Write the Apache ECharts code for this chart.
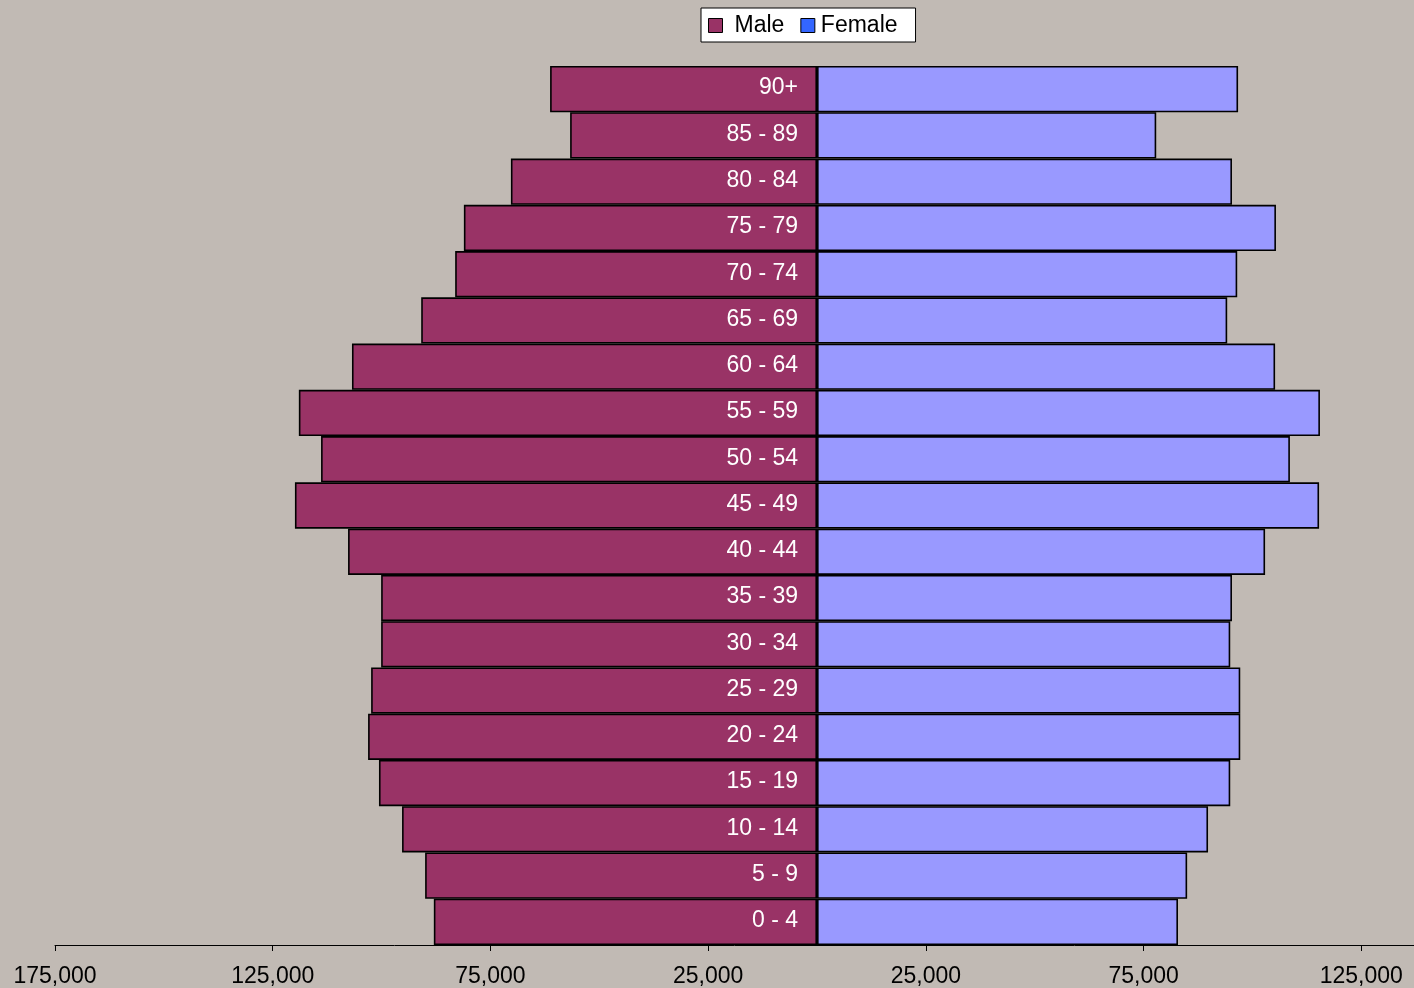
<!DOCTYPE html>
<html>
<head>
<meta charset="utf-8">
<script src="https://cdn.jsdelivr.net/npm/echarts@6/dist/echarts.min.js"></script>
<style>
  html, body { margin: 0; padding: 0; background: #C1BAB4; }
  #chart { width: 1414px; height: 988px; }
</style>
</head>
<body>
<div id="chart"></div>
<script>
// Age groups, youngest at the bottom
const ageGroups = ['0 - 4', '5 - 9', '10 - 14', '15 - 19', '20 - 24', '25 - 29', '30 - 34',
  '35 - 39', '40 - 44', '45 - 49', '50 - 54', '55 - 59', '60 - 64', '65 - 69', '70 - 74',
  '75 - 79', '80 - 84', '85 - 89', '90+'];

// Population counts per age group
const maleCounts = [88000, 90000, 95300, 100600, 103100, 102400, 100100, 100100, 107700, 119900,
  113900, 119000, 106800, 90900, 83100, 81100, 70300, 56700, 61300];
const femaleCounts = [82900, 85000, 89800, 94900, 97200, 97200, 94900, 95300, 102900, 115300,
  108600, 115500, 105200, 94200, 96500, 105400, 95300, 77900, 96700];

// Axis ticks
const axisMin = -175000;
const axisMax = 137100;
const tickStep = 50000;

const fmt = v => Math.abs(v).toLocaleString('en-US');

const chart = echarts.init(document.getElementById('chart'));
chart.setOption({
  backgroundColor: '#C1BAB4',
  animation: false,
  textStyle: { fontFamily: 'Liberation Sans, Arial, sans-serif' },
  legend: {
    left: 701,
    top: 8,
    padding: [6, 18, 5, 7],
    backgroundColor: '#FFFFFF',
    borderColor: '#000000',
    borderWidth: 1,
    borderRadius: 0,
    itemWidth: 14,
    itemHeight: 14,
    itemGap: 16,
    textStyle: { fontSize: 23, color: '#000000' },
    data: [
      { name: 'Male', icon: 'rect', itemStyle: { color: '#993366', borderColor: '#000000', borderWidth: 1 },
        textStyle: { padding: [2, 0, 0, 7] } },
      { name: 'Female', icon: 'rect', itemStyle: { color: '#3366FF', borderColor: '#000000', borderWidth: 1 },
        textStyle: { padding: [2, 0, 0, 1] } }
    ]
  },
  grid: { left: 55, right: 0, top: 66, bottom: 43, containLabel: false },
  xAxis: {
    type: 'value',
    min: axisMin,
    max: axisMax,
    interval: tickStep,
    splitLine: { show: false },
    axisLine: { show: true, onZero: false, lineStyle: { color: '#000000', width: 1 } },
    axisTick: { show: true, length: 6, lineStyle: { color: '#000000' } },
    axisLabel: { formatter: fmt, fontSize: 23, color: '#000000', margin: 20, showMaxLabel: false }
  },
  yAxis: {
    type: 'category',
    data: ageGroups,
    axisLine: { show: false },
    axisTick: { show: false },
    axisLabel: { show: false },
    splitLine: { show: false }
  },
  series: [
    {
      name: 'Male',
      type: 'bar',
      data: maleCounts.map(v => -v),
      barCategoryGap: 0,
      barGap: '-100%',
      itemStyle: { color: '#993366', borderColor: '#000000', borderWidth: 1.6 },
      label: {
        show: true,
        position: 'insideRight',
        distance: 19,
        formatter: '{b}',
        color: '#FFFFFF',
        fontSize: 23,
        offset: [0, -1]
      }
    },
    {
      name: 'Female',
      type: 'bar',
      data: femaleCounts,
      barCategoryGap: 0,
      barGap: '-100%',
      itemStyle: { color: '#9999FF', borderColor: '#000000', borderWidth: 1.6 }
    }
  ]
});
</script>
</body>
</html>
